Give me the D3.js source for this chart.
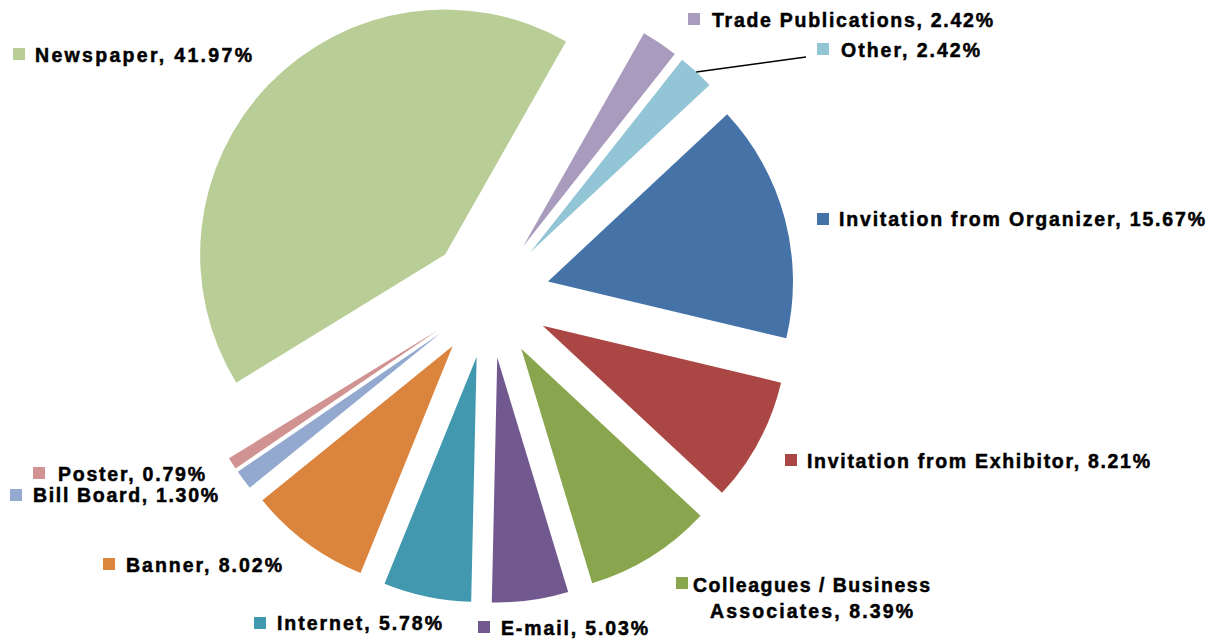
<!DOCTYPE html>
<html>
<head>
<meta charset="utf-8">
<script src="https://cdn.jsdelivr.net/npm/d3@7"></script>
<style>
    body { margin: 0; background: #fff; }
    svg { display: block; }
    .lbl { font-family: "Liberation Sans", Arial, sans-serif; font-weight: bold; font-size: 19.5px; fill: #000; stroke: #000; stroke-width: 0.5px; }
</style>
</head>
<body>
<div id="chart"></div>
<script>
// chart data
const categories = [
    'Invitation from Organizer', 'Invitation from Exhibitor', 'Colleagues / Business Associates',
    'E-mail', 'Internet', 'Banner', 'Bill Board', 'Poster', 'Newspaper',
    'Trade Publications', 'Other'
];
const values = [15.67, 8.21, 8.39, 5.03, 5.78, 8.02, 1.30, 0.79, 41.97, 2.42, 2.42];
const colors = [
    '#4572A7', '#AA4643', '#89A54E', '#71588F', '#4198AF', '#DB843D',
    '#93A9CF', '#D19392', '#B9CD96', '#A99BBD', '#92C5D6'
];

// label layout: key square left/top, text start, baseline, text width (lines for wrapped labels)
const labelLayout = [
    { sq: [817, 213], lines: [{ x: 839, y: 226, w: 366 }] },
    { sq: [785, 454], lines: [{ x: 807, y: 468, w: 343 }] },
    { sq: [676, 577], lines: [{ x: 693, y: 592, w: 237, text: 'Colleagues / Business' },
                              { x: 710, y: 618, w: 203, text: 'Associates, 8.39%' }] },
    { sq: [478, 621], lines: [{ x: 501, y: 635, w: 147 }] },
    { sq: [254, 617], lines: [{ x: 277, y: 630, w: 165 }] },
    { sq: [103, 558], lines: [{ x: 126, y: 572, w: 156 }] },
    { sq: [10, 489], lines: [{ x: 33, y: 502, w: 185 }] },
    { sq: [33, 467], lines: [{ x: 58, y: 481, w: 147 }] },
    { sq: [13, 48], lines: [{ x: 35, y: 62, w: 217 }] },
    { sq: [688, 13], lines: [{ x: 712, y: 27, w: 281 }] },
    { sq: [817, 43], lines: [{ x: 841, y: 57, w: 139 }] }
];

const W = 1217, H = 641;
const cx = 489, cy = 297, radius = 245, explode = 61;
const startDeg = 47;

const svg = d3.select('#chart').append('svg')
    .attr('width', W)
    .attr('height', H);

const pie = d3.pie()
    .sort(null)
    .value(d => d)
    .startAngle(startDeg * Math.PI / 180)
    .endAngle(startDeg * Math.PI / 180 + 2 * Math.PI);

const arc = d3.arc().innerRadius(0).outerRadius(radius);
const arcs = pie(values);

function offset(d, r) {
    const a = (d.startAngle + d.endAngle) / 2;
    return [r * Math.sin(a), -r * Math.cos(a)];
}

const g = svg.append('g').attr('transform', `translate(${cx},${cy})`);

g.selectAll('path.slice')
    .data(arcs)
    .enter().append('path')
    .attr('class', 'slice')
    .attr('d', arc)
    .attr('transform', d => {
        const o = offset(d, explode);
        return `translate(${o[0]},${o[1]})`;
    })
    .style('fill', (d, i) => colors[i]);

// leader line for "Other"
const otherIdx = categories.indexOf('Other');
const oa = arcs[otherIdx];
const o1 = offset(oa, explode);
const o2 = offset(oa, radius);
svg.append('line')
    .attr('x1', cx + o1[0] + o2[0])
    .attr('y1', cy + o1[1] + o2[1])
    .attr('x2', 806)
    .attr('y2', 57)
    .style('stroke', '#000')
    .style('stroke-width', 1.5);

// labels
categories.forEach((c, i) => {
    const L = labelLayout[i];
    svg.append('rect')
        .attr('x', L.sq[0])
        .attr('y', L.sq[1])
        .attr('width', 12)
        .attr('height', 12)
        .style('fill', colors[i]);
    L.lines.forEach(ln => {
        svg.append('text')
            .attr('class', 'lbl')
            .attr('x', ln.x)
            .attr('y', ln.y)
            .attr('textLength', ln.w)
            .attr('lengthAdjust', 'spacing')
            .text(ln.text || `${c}, ${values[i].toFixed(2)}%`);
    });
});
</script>
</body>
</html>
